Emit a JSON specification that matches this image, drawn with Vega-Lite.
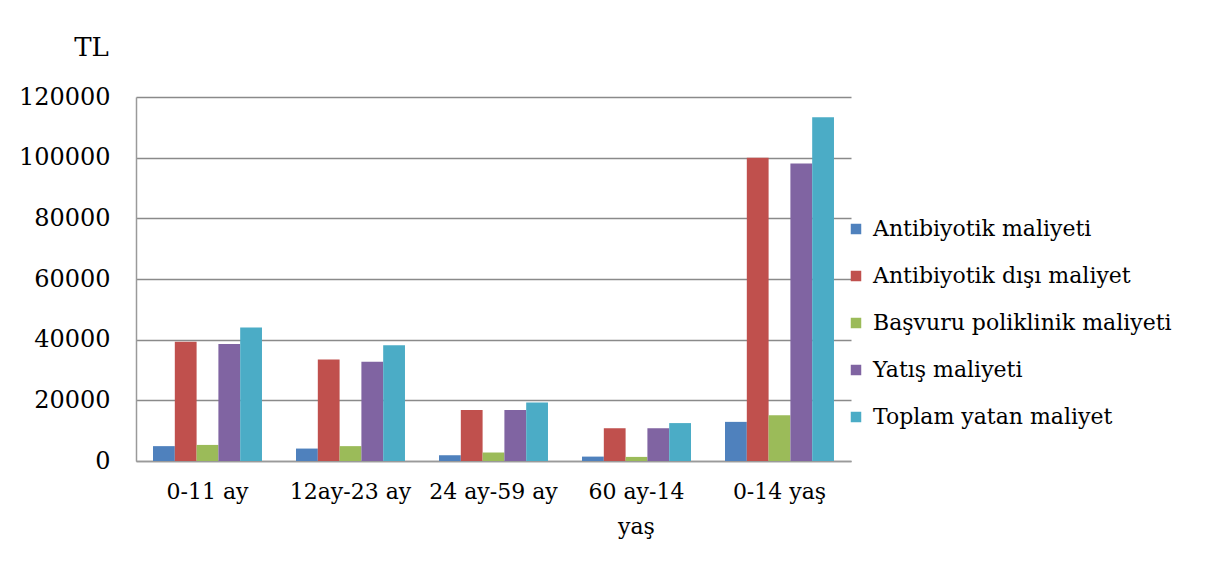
{
  "$schema": "https://vega.github.io/schema/vega-lite/v6.json",
  "width": 715,
  "height": 364,
  "autosize": {"type": "none"},
  "padding": {"left": 136, "top": 97, "right": 363, "bottom": 117},
  "background": "white",
  "data": {
    "values": [
      {"grup": "0-11 ay", "seri": "Antibiyotik maliyeti", "deger": 4900},
      {"grup": "0-11 ay", "seri": "Antibiyotik dışı maliyet", "deger": 39300},
      {"grup": "0-11 ay", "seri": "Başvuru poliklinik maliyeti", "deger": 5300},
      {"grup": "0-11 ay", "seri": "Yatış maliyeti", "deger": 38600},
      {"grup": "0-11 ay", "seri": "Toplam yatan maliyet", "deger": 44000},
      {"grup": "12ay-23 ay", "seri": "Antibiyotik maliyeti", "deger": 4100},
      {"grup": "12ay-23 ay", "seri": "Antibiyotik dışı maliyet", "deger": 33500},
      {"grup": "12ay-23 ay", "seri": "Başvuru poliklinik maliyeti", "deger": 4900},
      {"grup": "12ay-23 ay", "seri": "Yatış maliyeti", "deger": 32700},
      {"grup": "12ay-23 ay", "seri": "Toplam yatan maliyet", "deger": 38200},
      {"grup": "24 ay-59 ay", "seri": "Antibiyotik maliyeti", "deger": 1900},
      {"grup": "24 ay-59 ay", "seri": "Antibiyotik dışı maliyet", "deger": 16800},
      {"grup": "24 ay-59 ay", "seri": "Başvuru poliklinik maliyeti", "deger": 2800},
      {"grup": "24 ay-59 ay", "seri": "Yatış maliyeti", "deger": 16800},
      {"grup": "24 ay-59 ay", "seri": "Toplam yatan maliyet", "deger": 19300},
      {"grup": "60 ay-14 yaş", "seri": "Antibiyotik maliyeti", "deger": 1450},
      {"grup": "60 ay-14 yaş", "seri": "Antibiyotik dışı maliyet", "deger": 10800},
      {"grup": "60 ay-14 yaş", "seri": "Başvuru poliklinik maliyeti", "deger": 1350},
      {"grup": "60 ay-14 yaş", "seri": "Yatış maliyeti", "deger": 10800},
      {"grup": "60 ay-14 yaş", "seri": "Toplam yatan maliyet", "deger": 12500},
      {"grup": "0-14 yaş", "seri": "Antibiyotik maliyeti", "deger": 12900},
      {"grup": "0-14 yaş", "seri": "Antibiyotik dışı maliyet", "deger": 100000},
      {"grup": "0-14 yaş", "seri": "Başvuru poliklinik maliyeti", "deger": 15100},
      {"grup": "0-14 yaş", "seri": "Yatış maliyeti", "deger": 98100},
      {"grup": "0-14 yaş", "seri": "Toplam yatan maliyet", "deger": 113300}
    ]
  },
  "mark": {"type": "bar"},
  "encoding": {
    "x": {
      "field": "grup",
      "type": "nominal",
      "sort": ["0-11 ay", "12ay-23 ay", "24 ay-59 ay", "60 ay-14 yaş", "0-14 yaş"],
      "scale": {"paddingInner": 0.238, "paddingOuter": 0.119},
      "axis": {
        "title": null,
        "labelAngle": 0,
        "ticks": false,
        "labelFont": "DejaVu Serif",
        "labelFontSize": 22,
        "labelColor": "#000000",
        "labelPadding": 20,
        "labelLineHeight": 35,
        "labelBaseline": "top",
        "labelExpr": "datum.value == '60 ay-14 yaş' ? ['60 ay-14', 'yaş'] : datum.value",
        "domainColor": "#9a9a9a",
        "domainWidth": 1.5
      }
    },
    "xOffset": {
      "field": "seri",
      "type": "nominal",
      "sort": ["Antibiyotik maliyeti", "Antibiyotik dışı maliyet", "Başvuru poliklinik maliyeti", "Yatış maliyeti", "Toplam yatan maliyet"],
      "scale": {"paddingInner": 0, "paddingOuter": 0}
    },
    "y": {
      "field": "deger",
      "type": "quantitative",
      "scale": {"domain": [0, 120000], "nice": false},
      "axis": {
        "values": [0, 20000, 40000, 60000, 80000, 100000, 120000],
        "format": "d",
        "title": "TL",
        "titleAngle": 0,
        "titleX": -45,
        "titleY": -42,
        "titleAlign": "center",
        "titleBaseline": "alphabetic",
        "titleFont": "DejaVu Serif",
        "titleFontSize": 26,
        "titleFontWeight": "normal",
        "titleColor": "#000000",
        "ticks": false,
        "labelFont": "DejaVu Serif",
        "labelFontSize": 24,
        "labelColor": "#000000",
        "labelPadding": 26,
        "grid": true,
        "gridColor": "#8a8a8a",
        "gridWidth": 1.3,
        "domainColor": "#9a9a9a",
        "domainWidth": 1.5
      }
    },
    "color": {
      "field": "seri",
      "type": "nominal",
      "sort": ["Antibiyotik maliyeti", "Antibiyotik dışı maliyet", "Başvuru poliklinik maliyeti", "Yatış maliyeti", "Toplam yatan maliyet"],
      "scale": {
        "domain": ["Antibiyotik maliyeti", "Antibiyotik dışı maliyet", "Başvuru poliklinik maliyeti", "Yatış maliyeti", "Toplam yatan maliyet"],
        "range": ["#4F81BD", "#C0504D", "#9BBB59", "#8064A2", "#4BACC6"]
      },
      "legend": {
        "title": null,
        "orient": "none",
        "legendX": 709,
        "legendY": 121,
        "symbolType": "square",
        "symbolSize": 110,
        "symbolStrokeWidth": 0,
        "labelFont": "DejaVu Serif",
        "labelFontSize": 22,
        "labelColor": "#000000",
        "labelOffset": 6,
        "rowPadding": 25,
        "labelLimit": 400
      }
    }
  },
  "config": {
    "view": {"stroke": null}
  }
}
